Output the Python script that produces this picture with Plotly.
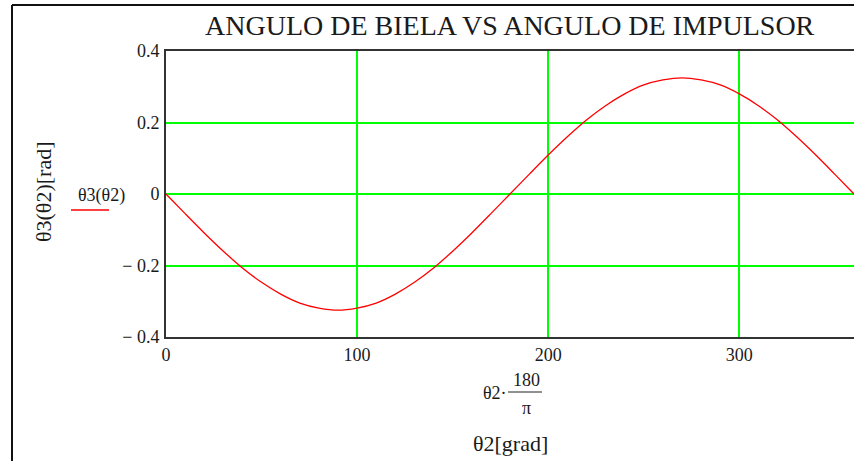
import plotly.graph_objects as go

# theta2 in degrees and theta3 in rad
theta2_deg = [0, 10, 20, 30, 40, 50, 60, 70, 80, 90, 100, 110, 120, 130, 140, 150, 160, 170, 180,
              190, 200, 210, 220, 230, 240, 250, 260, 270, 280, 290, 300, 310, 320, 330, 340, 350, 360]
theta3_rad = [0.0, -0.055, -0.109, -0.160, -0.207, -0.247, -0.280, -0.305, -0.319, -0.325,
              -0.319, -0.305, -0.280, -0.247, -0.207, -0.160, -0.109, -0.055, 0.0,
              0.055, 0.109, 0.160, 0.207, 0.247, 0.280, 0.305, 0.319, 0.325,
              0.319, 0.305, 0.280, 0.247, 0.207, 0.160, 0.109, 0.055, 0.0]
x_ticks = [0, 100, 200, 300]
y_ticks = [-0.4, -0.2, 0, 0.2, 0.4]
y_tick_text = ["\u2212 0.4", "\u2212 0.2", "0", "0.2", "0.4"]

W, H = 854, 461
L, R, T, B = 166, 0, 51, 461 - 337
pw, ph = W - L - R, H - T - B

def px(x):
    return (x - L) / pw

def py(y):
    return (H - B - y) / ph

SERIF = "Liberation Serif, Times New Roman, serif"
GREEN = "#00ff00"
TXT = "#1a1a1a"

fig = go.Figure()
fig.add_trace(go.Scatter(x=theta2_deg, y=theta3_rad, mode="lines",
                         line=dict(color="#ff0000", width=1.3, shape="spline"),
                         showlegend=False, hoverinfo="skip"))

fig.update_layout(
    width=W, height=H,
    margin=dict(l=L, r=R, t=T, b=B, autoexpand=False),
    paper_bgcolor="white", plot_bgcolor="white",
    font=dict(family=SERIF, color=TXT, size=18),
    xaxis=dict(range=[0, 360], tickvals=x_ticks, showgrid=True, gridcolor=GREEN, gridwidth=1.5,
               zeroline=False, showline=True, linecolor="#333333", linewidth=2, mirror=True,
               ticks="", ticklabelstandoff=0, tickfont=dict(family=SERIF, size=18, color=TXT)),
    yaxis=dict(range=[-0.4, 0.4], tickvals=y_ticks, ticktext=y_tick_text, showgrid=True,
               gridcolor=GREEN, gridwidth=1.5, zeroline=True, zerolinecolor=GREEN, zerolinewidth=1.5,
               showline=True, linecolor="#333333", linewidth=2, mirror=False, ticks="",
               ticklabelstandoff=1, tickfont=dict(family=SERIF, size=18, color=TXT)),
)

def a(text, x, y, size, angle=0):
    return dict(text=text, x=px(x), y=py(y), xref="paper", yref="paper", showarrow=False,
                textangle=angle, xanchor="center", yanchor="middle",
                font=dict(family=SERIF, size=size, color=TXT))

ann = [
    a("ANGULO DE BIELA VS ANGULO DE IMPULSOR", 510, 25, 28),
    a("\u03b83(\u03b82)[rad]", 43, 192, 22, -90),
    a("\u03b83(\u03b82)", 101, 195, 18),
    a("\u03b82\u00b7", 495, 393, 18),
    a("180", 526, 380, 18),
    a("\u03c0", 526, 408, 18),
    a("\u03b82[grad]", 510, 443, 22),
]
fig.update_layout(annotations=ann)

def ln(x0, y0, x1, y1, color, width):
    return dict(type="line", xref="paper", yref="paper", x0=px(x0), x1=px(x1), y0=py(y0), y1=py(y1),
                line=dict(color=color, width=width), layer="above")

shapes = [
    ln(71, 210, 109, 210, "#ff0000", 1.5),     # legend sample
    ln(508, 392, 542, 392, "#222222", 1),      # fraction bar
    ln(12, 5, 12, 461, "#111111", 2),          # frame left
    ln(12, 5, 854, 5, "#111111", 2),           # frame top
]
fig.update_layout(shapes=shapes)

fig.write_html("out.html", config={"displayModeBar": False},
               post_script="document.body.style.margin='0';document.body.style.overflow='hidden';")
